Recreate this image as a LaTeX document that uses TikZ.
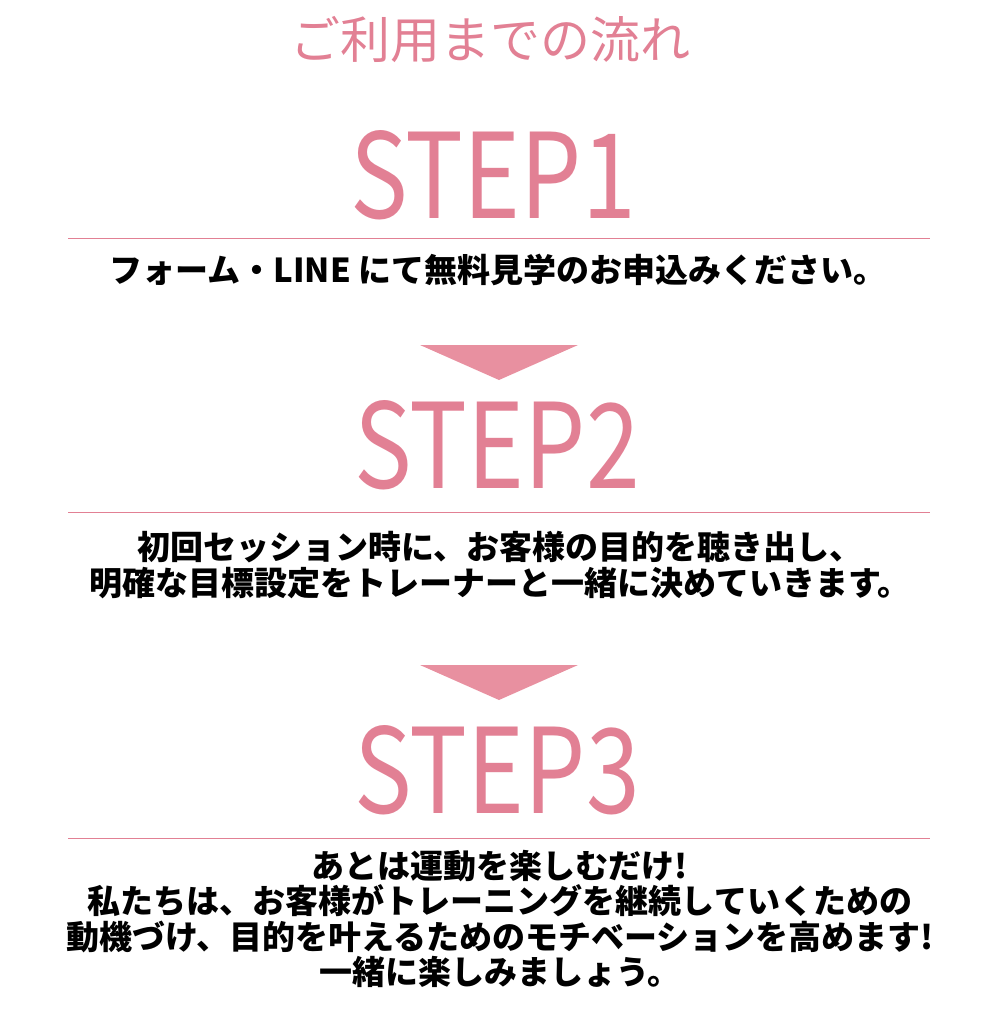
\documentclass[tikz,border=0pt]{standalone}
\usepackage{fontspec}
\setmainfont{Noto Sans CJK JP}
\usetikzlibrary{positioning}
\definecolor{stepink}{RGB}{226,128,148}
\definecolor{arrowpink}{RGB}{232,144,160}
\tikzset{
  stephead/.style={text=stepink, font=\fontsize{118}{118}\selectfont, xscale=0.82, inner sep=0pt},
  rule/.style={draw=stepink, line width=1pt},
  body/.style={font=\bfseries\fontsize{33}{35.5}\selectfont, align=center, inner sep=0pt},
  pointer/.style={fill=arrowpink}
}
\begin{document}
\begin{tikzpicture}[x=1pt,y=-1pt]
\useasboundingbox (0,0) rectangle (1000,1026);
% title
\node[text=stepink, font=\fontsize{50}{50}\selectfont] (title) at (490,40) {ご利用までの流れ};
% step 1
\node[stephead] (s1) at (493,175) {STEP1};
\draw[rule] (68,238) -- (930,238);
\node[body] (t1) at (498,270) {フォーム・LINE にて無料見学のお申込みください。};
\fill[pointer] (420,345) -- (578,345) -- (499,380) -- cycle;
% step 2
\node[stephead] (s2) at (497,445) {STEP2};
\draw[rule] (68,512) -- (930,512);
\node[body] (t2) at (500,565) {初回セッション時に、お客様の目的を聴き出し、\\明確な目標設定をトレーナーと一緒に決めていきます。};
\fill[pointer] (420,665) -- (578,665) -- (499,700) -- cycle;
% step 3
\node[stephead] (s3) at (497,770) {STEP3};
\draw[rule] (68,838) -- (930,838);
\node[body] (t3) at (500,919) {あとは運動を楽しむだけ!\\私たちは、お客様がトレーニングを継続していくための\\動機づけ、目的を叶えるためのモチベーションを高めます!\\一緒に楽しみましょう。};
\end{tikzpicture}
\end{document}
